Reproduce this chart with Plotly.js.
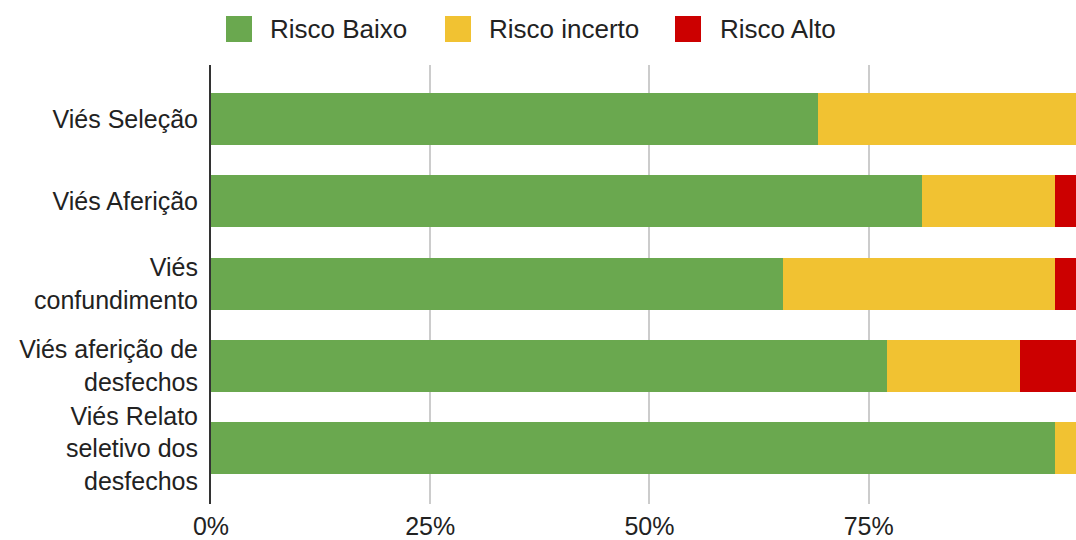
<!DOCTYPE html>
<html>
<head>
<meta charset="utf-8">
<script src="https://cdn.plot.ly/plotly-3.0.1.min.js"></script>
<style>html,body{margin:0;padding:0;background:#fff;}#chart{width:1076px;height:540px;}</style>
</head>
<body>
<div id="chart"></div>
<script>
// ---- data ----
const categories = [
  "Viés Seleção",
  "Viés Aferição",
  "Viés<br>confundimento",
  "Viés aferição de<br>desfechos",
  "Viés Relato<br>seletivo dos<br>desfechos"
];
const seriesNames = ["Risco Baixo", "Risco incerto", "Risco Alto"];
const riscoBaixo   = [69.2, 81.1, 65.2, 77.1, 96.2];
const riscoIncerto = [30.8, 15.1, 31.0, 15.1, 3.8];
const riscoAlto    = [0.0, 3.8, 3.8, 7.8, 0.0];
const xTickVals = [0, 25, 50, 75];
const xTickText = ["0%", "25%", "50%", "75%"];

// ---- style ----
const colors = ["#6aa84f", "#f1c232", "#cc0000"];
const FONT = "Liberation Sans, Arial, sans-serif";
const W = 1076, H = 540;
const M = {l: 211, r: 0, t: 65, b: 36};
const pw = W - M.l - M.r, ph = H - M.t - M.b;
const px2x = p => (p - M.l) / pw;
const py2y = p => (H - M.b - p) / ph;

const values = [riscoBaixo, riscoIncerto, riscoAlto];
const traces = values.map((v, i) => ({
  type: "bar",
  orientation: "h",
  name: seriesNames[i],
  x: v,
  y: categories,
  marker: {color: colors[i], line: {width: 0}},
  hoverinfo: "name+x",
  showlegend: false
}));

// custom legend (large square swatches)
const legendSq = [226, 445, 675];
const legendTx = [268, 487, 718];
const legY = 29, sq = 26;
const shapes = [];
const annotations = [];
seriesNames.forEach((n, i) => {
  shapes.push({
    type: "rect", xref: "paper", yref: "paper",
    x0: px2x(legendSq[i]), x1: px2x(legendSq[i] + sq),
    y0: py2y(legY + sq / 2), y1: py2y(legY - sq / 2),
    fillcolor: colors[i], line: {width: 0}
  });
  annotations.push({
    xref: "paper", yref: "paper", x: px2x(legendTx[i]), y: py2y(legY),
    xanchor: "left", yanchor: "middle", showarrow: false,
    text: n, font: {family: FONT, size: 26, color: "#222"}
  });
});

const layout = {
  width: W, height: H,
  margin: M,
  paper_bgcolor: "#fff", plot_bgcolor: "#fff",
  barmode: "stack",
  bargap: 0.37,
  font: {family: FONT, size: 24, color: "#222"},
  xaxis: {
    range: [0, 98.64], autorange: false,
    tickvals: xTickVals, ticktext: xTickText,
    showgrid: true, gridcolor: "#cccccc", gridwidth: 2,
    zeroline: false, showline: false, ticks: "",
    ticklabelstandoff: 5,
    tickfont: {family: FONT, size: 25, color: "#222"}
  },
  yaxis: {
    type: "category",
    categoryorder: "array", categoryarray: categories,
    range: [4.676, -0.6545], autorange: false,
    showgrid: false, zeroline: false,
    showline: true, linecolor: "#333", linewidth: 2,
    ticks: "", ticklabelstandoff: 6,
    tickfont: {family: FONT, size: 25, color: "#222"}
  },
  shapes: shapes,
  annotations: annotations,
  showlegend: false
};

Plotly.newPlot("chart", traces, layout, {displayModeBar: false, staticPlot: true});
</script>
</body>
</html>
